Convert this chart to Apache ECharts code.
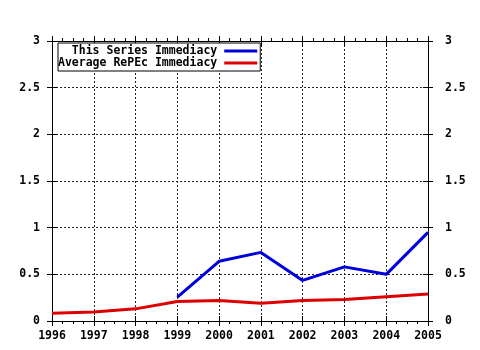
<!DOCTYPE html>
<html><head><meta charset="utf-8">
<script src="https://cdn.jsdelivr.net/npm/echarts@6/dist/echarts.min.js"></script>
<style>html,body{margin:0;padding:0;background:#fff}#c{width:480px;height:350px}</style>
</head><body><div id="c"></div>
<script>
var years = [1996,1997,1998,1999,2000,2001,2002,2003,2004,2005];
var seriesYears = [1999,2000,2001,2002,2003,2004,2005];
var seriesValues = [0.255,0.64,0.735,0.435,0.58,0.50,0.95];
var averageValues = [0.083,0.096,0.13,0.21,0.22,0.19,0.22,0.23,0.26,0.29];
var yTicks = [0,0.5,1,1.5,2,2.5,3];
var seriesNames = ['  This Series Immediacy','Average RePEc Immediacy'];

var font = "'DejaVu Sans Mono', monospace";
function pairs(xs, ys){ return xs.map(function(x,i){return [x, ys[i]];}); }

function xAx(pos, inside, main){
  return {type:'value', min:1996, max:2005, interval:1, position:pos, gridIndex:0,
    axisLine:{show:main, onZero:false, lineStyle:{color:'#000', width:1}},
    axisTick:{show:true, inside:inside, length:5, lineStyle:{color:'#000'}},
    minorTick:{show:!inside, splitNumber:4, length:3, lineStyle:{color:'#000'}},
    axisLabel:{show:main && pos==='bottom', margin:9, formatter:function(v){return String(v);}, color:'#000', fontFamily:font, fontWeight:'bold', fontSize:11.5},
    splitLine:{show:main && pos==='bottom', lineStyle:{color:'#222', type:[2,2], width:1}}
  };
}
function yAx(pos, inside, main){
  return {type:'value', min:0, max:3, interval:0.5, position:pos, gridIndex:0,
    axisLine:{show:main, onZero:false, lineStyle:{color:'#000', width:1}},
    axisTick:{show:true, inside:inside, length:5, lineStyle:{color:'#000'}},
    axisLabel:{show:main, margin: pos==='left'?12:17, formatter:function(v){return String(v);}, color:'#000', fontFamily:font, fontWeight:'bold', fontSize:11.5},
    splitLine:{show:main && pos==='left', lineStyle:{color:'#222', type:[2,2], width:1}}
  };
}

var chart = echarts.init(document.getElementById('c'), null, {renderer:'canvas'});
chart.setOption({
  backgroundColor:'#fff',
  animation:false,
  grid:{left:52, right:52, top:41, bottom:29, containLabel:false},
  xAxis:[xAx('bottom',false,true), xAx('top',false,true), xAx('bottom',true,false), xAx('top',true,false)],
  yAxis:[yAx('left',false,true), yAx('right',false,true), yAx('left',true,false), yAx('right',true,false)],
  legend:{
    show:true, orient:'vertical', left:58, top:43, align:'right',
    padding:[2,3,2,0], itemGap:0, itemWidth:33, itemHeight:12,
    borderColor:'#000', borderWidth:1, backgroundColor:'#fff',
    textStyle:{color:'#000', fontFamily:font, fontWeight:'bold', fontSize:11.5, padding:[0,2,0,0]},
    data:[{name:seriesNames[0], icon:'path://M0,0H33V3H0Z'},{name:seriesNames[1], icon:'path://M0,0H33V3H0Z'}]
  },
  series:[
    {name:seriesNames[0], type:'line', xAxisIndex:0, yAxisIndex:0, data:pairs(seriesYears, seriesValues),
     showSymbol:false, symbol:'none', lineStyle:{color:'#0000dd', width:3}, itemStyle:{color:'#0000dd'}, z:3},
    {name:seriesNames[1], type:'line', xAxisIndex:0, yAxisIndex:0, data:pairs(years, averageValues),
     showSymbol:false, symbol:'none', lineStyle:{color:'#dd0000', width:3}, itemStyle:{color:'#dd0000'}, z:2}
  ]
});
</script></body></html>
